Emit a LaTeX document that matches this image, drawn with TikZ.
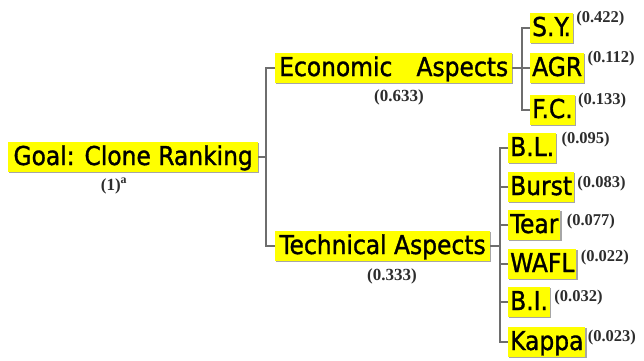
\documentclass[tikz,border=0pt]{standalone}
\usepackage{fontspec}
\setmainfont[FakeBold=1.2]{DejaVu Sans Condensed}
\newfontfamily\valfont{Liberation Serif}
\usetikzlibrary{shadows}
\definecolor{boxyellow}{RGB}{255,255,0}
\definecolor{linegray}{RGB}{110,110,110}
\definecolor{valgray}{RGB}{45,45,45}
\tikzset{
  lbl/.style={fill=boxyellow, inner xsep=2pt, inner ysep=2pt, text height=21pt, text depth=5pt,
    font=\fontsize{26}{30}\selectfont, anchor=west,
    general shadow={shadow xshift=1.2pt, shadow yshift=-1.2pt, fill=gray!70}},
  val/.style={inner sep=0pt, anchor=west, text=valgray, font=\valfont\bfseries\fontsize{16.5}{18}\selectfont},
  wt/.style={inner sep=0pt, text=valgray, font=\valfont\bfseries\fontsize{17}{19}\selectfont},
  conn/.style={draw=linegray, line width=1.2pt}
}
\begin{document}
\begin{tikzpicture}[x=1pt,y=-1pt]
\useasboundingbox (0,0) rectangle (644,360);
% level 0
\node[lbl, minimum width=250pt] (goal) at (8,157) {Goal: Clone Ranking};
\node[wt] (w0) at (114,186) {(1)\textsuperscript{a}};
% level 1
\node[lbl, minimum width=237pt] (econ) at (275,68) {\makebox[229pt][s]{Economic\hfill Aspects}};
\node[wt] (w1) at (399,97) {(0.633)};
\node[lbl, minimum width=215pt] (tech) at (275,246) {Technical Aspects};
\node[wt] (w2) at (392,276) {(0.333)};
% junctions
\coordinate (j1) at (266,157);
\coordinate (j2) at (522,68);
\coordinate (j3) at (500,246);
% economic leaves
\node[lbl] (sy) at (530,28) {S.Y.};
\node[lbl] (agr) at (530,68) {AGR};
\node[lbl] (fc) at (530,110) {F.C.};
% technical leaves
\node[lbl] (bl) at (508,148) {B.L.};
\node[lbl] (burst) at (508,187) {Burst};
\node[lbl] (tear) at (508,225) {Tear};
\node[lbl] (wafl) at (508,264) {WAFL};
\node[lbl] (bi) at (508,302) {B.I.};
\node[lbl] (kappa) at (508,342) {Kappa};
% values
\node[val] (vsy) at ([xshift=3pt,yshift=9pt]sy.east) {(0.422)};
\node[val] (vagr) at ([xshift=3pt,yshift=9pt]agr.east) {(0.112)};
\node[val] (vfc) at ([xshift=3pt,yshift=9pt]fc.east) {(0.133)};
\node[val] (vbl) at ([xshift=5pt,yshift=8pt]bl.east) {(0.095)};
\node[val] (vburst) at ([xshift=3pt,yshift=3pt]burst.east) {(0.083)};
\node[val] (vtear) at ([xshift=6pt,yshift=3pt]tear.east) {(0.077)};
\node[val] (vwafl) at ([xshift=4pt,yshift=6pt]wafl.east) {(0.022)};
\node[val] (vbi) at ([xshift=4pt,yshift=4pt]bi.east) {(0.032)};
\node[val] (vkappa) at ([xshift=2pt,yshift=4pt]kappa.east) {(0.023)};
% connectors
\draw[conn] (goal.east) -- (j1);
\draw[conn] (econ.west) -| (j1) |- (tech.west);
\draw[conn] (econ.east) -- (j2);
\draw[conn] (sy.west) -| (j2) |- (fc.west);
\draw[conn] (agr.west) -- (j2);
\draw[conn] (tech.east) -- (j3);
\draw[conn] (bl.west) -| (j3) |- (kappa.west);
\foreach \n in {burst,tear,wafl,bi} \draw[conn] (\n.west) -- (\n.west -| j3);
\end{tikzpicture}
\end{document}
